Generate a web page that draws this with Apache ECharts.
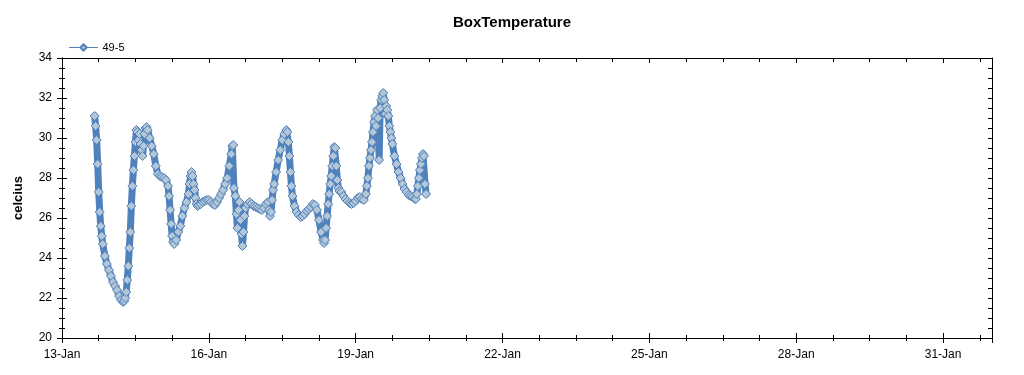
<!DOCTYPE html>
<html>
<head>
<meta charset="utf-8">
<script src="https://cdn.jsdelivr.net/npm/echarts@6/dist/echarts.min.js"></script>
<style>
html,body{margin:0;padding:0;background:#fff;}
#chart{width:1024px;height:375px;}
</style>
</head>
<body>
<div id="chart"></div>
<script>
// hours since 13-Jan 00:00
var hours = [
16,16.5,17,17.5,18,18.5,19,19.5,20,21,22,23,24,25,26,27,28,29,30,30.5,31,31.5,32,32.5,33,33.5,34,34.5,35,35.5,36,36.5,
37,37.5,38,38.5,39,39.5,40,40.5,41,41.5,42,43,44,45,46,47,48,49,50,51,52,52.5,53,53.5,54,54.5,55,56,57,58,59,60,61,62,62.5,63,63.5,64,64.5,65,65.5,66,66.5,
67,68,69,70,71,72,73,74,75,76,77,78,79,80,81,82,83,83.5,84,84.3,85,85.5,86,86.5,87,87.5,88,88.5,89,89.5,90,91,92,93,94,95,96,97,98,99,100,101,101.5,102,102.5,
103,103.5,104,105,106,107,108,109,110,110.5,111,111.5,112,112.5,113,114,115,116,117,118,119,120,121,122,123,124,125,126,127,128,128.5,129,129.5,130,130.5,131,131.5,132,132.5,133,133.5,
134,134.5,135,135.5,136,137,138,139,140,141,142,143,144,145,146,147,148,149,149.5,150,150.5,151,151.5,152,152.5,153,153.5,154,154.5,155,155.5,156,156.5,157,157.5,158,158.5,159,159.5,
160,160.5,161,161.5,162,163,164,165,166,167,168,169,170,171,172,173,173.5,174,174.5,175,175.5,176,176.5,177,177.5,178,178.5
];
var temps = [
31.1,30.6,29.9,28.7,27.3,26.3,25.6,25.1,24.7,24.1,23.7,23.4,23.1,22.8,22.6,22.4,22.1,21.9,21.8,21.85,22.0,22.3,22.9,23.6,24.5,25.3,26.6,27.6,28.4,29.1,29.8,30.4,
30.3,29.9,30.2,29.7,29.4,29.1,29.6,30.2,30.5,30.55,30.4,30.0,29.6,29.2,28.6,28.2,28.1,28.05,28.0,27.9,27.6,27.1,26.4,25.7,25.1,24.8,24.7,24.9,25.3,25.6,26.1,26.5,26.8,27.2,27.7,28.1,28.3,28.1,27.7,27.4,27.0,26.7,26.6,
26.65,26.7,26.8,26.85,26.9,26.9,26.8,26.7,26.65,26.8,27.0,27.2,27.4,27.7,28.0,28.6,29.2,29.6,29.65,27.5,27.1,26.2,25.5,26.4,26.8,25.9,25.2,24.6,25.3,26.1,26.5,26.7,26.8,26.7,26.6,26.55,26.5,26.45,26.4,26.5,26.7,26.8,26.4,26.1,26.3,
26.9,27.4,27.7,28.3,28.9,29.4,29.9,30.2,30.4,30.3,29.8,29.1,28.3,27.6,27.1,26.6,26.3,26.15,26.05,26.1,26.2,26.35,26.45,26.55,26.7,26.65,26.4,25.9,25.3,24.9,24.75,24.9,25.5,26.1,26.7,27.2,27.7,28.1,28.6,29.1,29.55,
29.5,28.6,27.9,27.5,27.35,27.3,27.1,26.95,26.85,26.75,26.7,26.75,26.85,27.0,27.05,26.95,26.9,27.2,27.6,28.0,28.6,29.0,29.4,29.8,30.3,30.8,31.1,30.6,31.4,31.0,28.9,31.5,31.9,32.1,32.25,31.9,31.2,31.6,31.4,
31.1,30.6,30.3,30.0,29.7,29.1,28.7,28.3,28.0,27.7,27.45,27.3,27.15,27.1,27.05,26.95,26.95,27.2,27.6,28.0,28.4,28.7,29.0,29.2,29.1,27.7,27.2
];
var seriesName = '49-5';

var data = hours.map(function(h,i){ return [h/24, temps[i]]; });
var font = 'Liberation Sans, Arial, sans-serif';
var xFmt = function(v){ return (13+Math.round(v)) + '-Jan'; };

function xAx(extra){
  var base = {type:'value', min:0, max:19, interval:3, splitLine:{show:false},
    axisLine:{onZero:false, lineStyle:{color:'#000', width:1}},
    minorTick:{show:true, splitNumber:4, length:2, lineStyle:{color:'#000'}},
    axisTick:{show:true, length:5, lineStyle:{color:'#000'}},
    axisLabel:{show:false}};
  for (var k in extra) base[k]=extra[k];
  return base;
}
function yAx(extra){
  var base = {type:'value', min:20, max:34, interval:2, splitLine:{show:false},
    axisLine:{show:true, onZero:false, lineStyle:{color:'#000', width:1}},
    minorTick:{show:true, splitNumber:4, length:3, lineStyle:{color:'#000'}},
    axisTick:{show:true, length:5, lineStyle:{color:'#000'}},
    axisLabel:{show:false}};
  for (var k in extra) base[k]=extra[k];
  return base;
}

var chart = echarts.init(document.getElementById('chart'), null, {renderer:'canvas'});
chart.setOption({
  animation:false,
  backgroundColor:'#fff',
  title:{text:'BoxTemperature', left:'center', top:10,
    textStyle:{fontFamily:font, fontSize:15, fontWeight:'bold', color:'#000'}},
  legend:{left:64, top:37, itemWidth:28, itemHeight:8, itemGap:10,
    textStyle:{fontFamily:font, fontSize:11, color:'#000'},
    lineStyle:{width:1},
    data:[seriesName]},
  grid:{left:62, right:32, top:58, bottom:37, containLabel:false},
  xAxis:[
    xAx({position:'bottom', axisTick:{show:true, inside:false, length:5, lineStyle:{color:'#000'}},
      minorTick:{show:true, splitNumber:4, length:3, lineStyle:{color:'#000'}},
      axisLabel:{show:true, margin:11, showMaxLabel:false, formatter:xFmt, fontFamily:font, fontSize:12, color:'#000'}}),
    xAx({position:'bottom', axisTick:{show:true, inside:true, length:5, lineStyle:{color:'#000'}},
      minorTick:{show:true, splitNumber:4, length:3, lineStyle:{color:'#000'}}}),
    xAx({position:'top', axisTick:{show:true, inside:true, length:5, lineStyle:{color:'#000'}},
      minorTick:{show:true, splitNumber:4, length:4, lineStyle:{color:'#000'}}})
  ],
  yAxis:[
    yAx({position:'left', name:'celcius', nameLocation:'middle', nameGap:37,
      nameTextStyle:{fontFamily:font, fontSize:13, fontWeight:'bold', color:'#000'},
      axisTick:{show:true, inside:false, length:5, lineStyle:{color:'#000'}},
      minorTick:{show:true, splitNumber:4, length:3, lineStyle:{color:'#000'}},
      axisLabel:{show:true, margin:10, fontFamily:font, fontSize:12, color:'#000'}}),
    yAx({position:'left', axisTick:{show:true, inside:true, length:5, lineStyle:{color:'#000'}},
      minorTick:{show:true, splitNumber:4, length:3, lineStyle:{color:'#000'}}}),
    yAx({position:'right', axisTick:{show:true, inside:true, length:4, lineStyle:{color:'#000'}},
      minorTick:{show:true, splitNumber:4, length:4, lineStyle:{color:'#000'}}})
  ],
  series:[{
    name:seriesName, type:'line', xAxisIndex:0, yAxisIndex:0,
    data:data, showSymbol:true, showAllSymbol:true,
    symbol:'diamond', symbolSize:9,
    itemStyle:{color:'#b4c7d6', borderColor:'#4f81bd', borderWidth:1},
    lineStyle:{color:'#4f81bd', width:7, join:'round', cap:'round'}
  }]
});
</script>
</body>
</html>
